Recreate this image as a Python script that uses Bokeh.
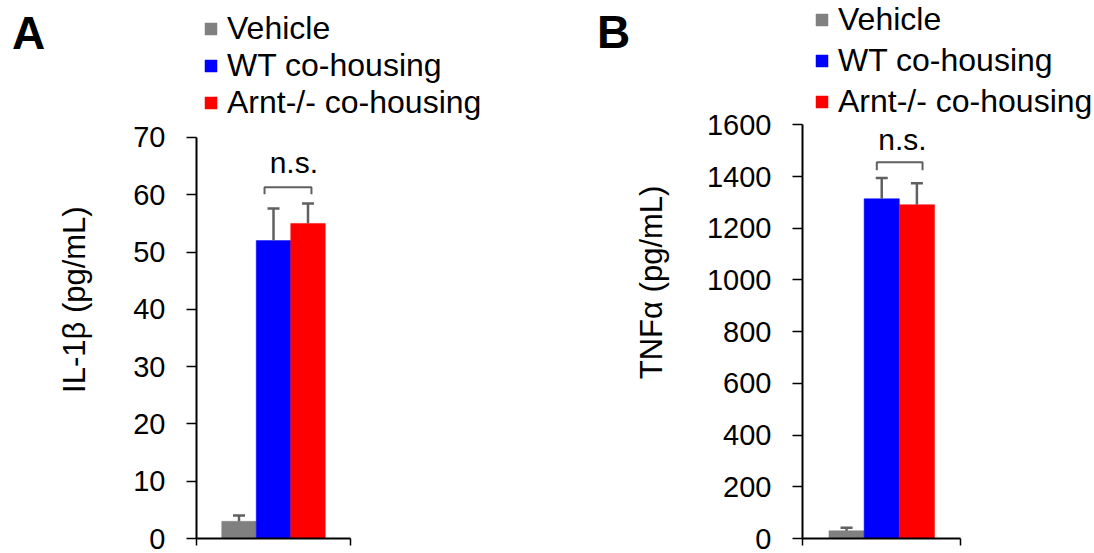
from bokeh.plotting import figure
from bokeh.models import (ColumnDataSource, Range1d, FixedTicker, Whisker, TeeHead,
                          Legend, LegendItem, Div)
from bokeh.layouts import row
from bokeh.embed import file_html
from bokeh.resources import INLINE
from bokeh.core.properties import value

# ---------------- data ----------------
groups = ["Vehicle", "WT co-housing", "Arnt-/- co-housing"]
colors = ["#808080", "#0000FF", "#FF0000"]

il1b_mean = [3.0, 52.0, 55.0]
il1b_err = [1.0, 5.6, 3.5]
il1b_ticks = [0, 10, 20, 30, 40, 50, 60, 70]

tnfa_mean = [30, 1314, 1291]
tnfa_err = [12, 80, 83]
tnfa_ticks = [0, 200, 400, 600, 800, 1000, 1200, 1400, 1600]

sig_text = "n.s."
il1b_bracket = [60.1, 61.3]      # leg bottom, bracket top
il1b_sig_y = 65.6
tnfa_bracket = [1424, 1455]
tnfa_sig_y = 1542

FONT = "Liberation Sans"
ERR_COLOR = "#606060"
NBSP = "\u00a0"


def make_panel(means, errs, ticks, ylabel, bracket, sig_y, bracket_ext,
               width, border_left, border_bottom, x_end, y_end, bar_w,
               legend_xy, legend_spacing, label_standoff, label_pad):
    p = figure(width=width, height=553, output_backend="svg", toolbar_location=None,
               x_range=Range1d(0, x_end), y_range=Range1d(0, y_end),
               min_border_left=border_left, min_border_right=0,
               min_border_top=0, min_border_bottom=border_bottom)
    p.outline_line_color = None
    p.xgrid.visible = False
    p.ygrid.visible = False
    p.background_fill_color = "white"
    p.border_fill_color = "white"

    xs = [0.5 + (i - 1) * bar_w for i in range(len(groups))]
    src = ColumnDataSource(dict(x=xs, top=means,
                                upper=[m + e for m, e in zip(means, errs)],
                                color=colors, group=groups))
    r = p.vbar(x="x", top="top", width=bar_w, fill_color="color",
               line_color="color", line_width=0.5, source=src)

    wh = Whisker(source=src, base="x", lower="top", upper="upper",
                 line_color=ERR_COLOR, line_width=2.5,
                 upper_head=TeeHead(size=12, line_color=ERR_COLOR, line_width=2.5),
                 lower_head=None, level="overlay")
    p.add_layout(wh)

    # significance bracket between WT and Arnt-/- groups
    bx0 = xs[1] - bracket_ext[0] * bar_w
    bx1 = xs[2] + bracket_ext[1] * bar_w
    p.line(x=[bx0, bx0, bx1, bx1], y=[bracket[0], bracket[1], bracket[1], bracket[0]],
           line_color=ERR_COLOR, line_width=2)
    p.text(x=[(xs[1] + xs[2]) / 2 + 0.02], y=[sig_y], text=[sig_text], text_align="center",
           text_baseline="alphabetic", text_font=value(FONT), text_font_size="30px",
           text_color="black")

    # axes
    ya = p.yaxis[0]
    ya.ticker = FixedTicker(ticks=ticks)
    ya.bounds = (ticks[0], ticks[-1])
    ya.axis_line_width = 2
    ya.axis_line_color = "black"
    ya.major_tick_line_width = 1.5
    ya.major_tick_out = 10
    ya.major_tick_in = 0
    ya.minor_tick_out = 0
    ya.minor_tick_in = 0
    ya.major_label_standoff = 21
    ya.major_label_text_font = FONT
    ya.major_label_text_font_size = "29px"
    ya.major_label_text_color = "black"
    # trailing no-break spaces shift the visible title towards the bottom of the axis
    ya.axis_label = ylabel + NBSP * label_pad
    ya.axis_label_text_font = FONT
    ya.axis_label_text_font_size = "31px"
    ya.axis_label_text_font_style = "normal"
    ya.axis_label_text_color = "black"
    ya.axis_label_standoff = label_standoff

    xa = p.xaxis[0]
    xa.ticker = FixedTicker(ticks=[0, 1])
    xa.bounds = (0, 1)
    xa.axis_line_width = 2
    xa.axis_line_color = "black"
    xa.major_tick_line_width = 1.5
    xa.major_tick_out = 7
    xa.major_tick_in = 0
    xa.minor_tick_out = 0
    xa.minor_tick_in = 0
    xa.major_label_text_font_size = "0px"
    xa.major_label_text_alpha = 0
    xa.major_label_standoff = 0

    legend = Legend(items=[LegendItem(label=g, renderers=[r], index=i)
                           for i, g in enumerate(groups)],
                    location=legend_xy, orientation="vertical",
                    glyph_width=15, glyph_height=15, label_standoff=9,
                    label_text_font=FONT, label_text_font_size="32px",
                    label_text_color="black", spacing=legend_spacing,
                    padding=0, margin=0,
                    border_line_alpha=0, background_fill_alpha=0)
    p.add_layout(legend)
    return p


def letter_div(letter, width, pad_left, pad_top):
    html = ('<div style="font-family:\'Liberation Sans\',Arial,sans-serif;'
            'font-weight:bold;font-size:46px;line-height:1;color:black;'
            f'padding-left:{pad_left}px;padding-top:{pad_top}px;">{letter}</div>')
    return Div(text=html, width=width, height=553, margin=(0, 0, 0, 0))


# panel A: frame left at x=196, y=0 at y=538 (5.7286 px per unit)
pA = make_panel(il1b_mean, il1b_err, il1b_ticks, "IL-1\u03b2 (pg/mL)",
                il1b_bracket, il1b_sig_y, [0.26, 0.10],
                width=540, border_left=146, border_bottom=15,
                x_end=(590 - 196) / 154, y_end=538 / 5.7286,
                bar_w=0.224, legend_xy=(7, 417), legend_spacing=0,
                label_standoff=38, label_pad=7)

# panel B: frame left at x=801, y=0 at y=541 (0.26 px per unit)
pB = make_panel(tnfa_mean, tnfa_err, tnfa_ticks, "TNF\u03b1 (pg/mL)",
                tnfa_bracket, tnfa_sig_y, [0.14, 0.16],
                width=464, border_left=171, border_bottom=12,
                x_end=(1094 - 801) / 159, y_end=541 / 0.26,
                bar_w=0.222, legend_xy=(12, 418), legend_spacing=4,
                label_standoff=35, label_pad=3)

layout = row(letter_div("A", 50, 12, 10), pA, letter_div("B", 40, 7, 9), pB)
open("out.html", "w").write(file_html(layout, INLINE))
